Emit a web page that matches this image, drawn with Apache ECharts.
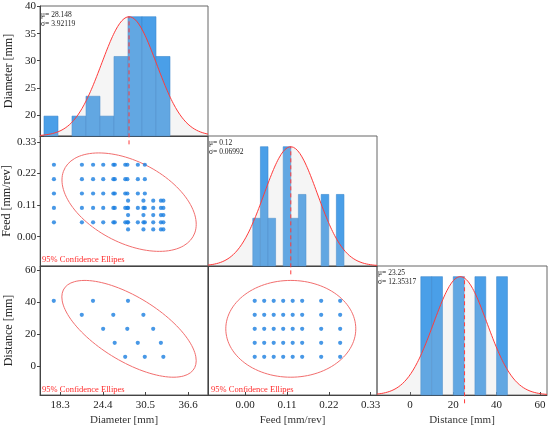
<!DOCTYPE html>
<html>
<head>
<meta charset="utf-8">
<script src="https://cdn.jsdelivr.net/npm/echarts@6.0.0/dist/echarts.min.js"></script>
<style>
  html, body { margin: 0; padding: 0; background: #fff; }
  #pair { width: 550px; height: 428px; }
</style>
</head>
<body>
<div id="pair"></div>
<script>
// ---- data ----
var varNames = ['Diameter [mm]', 'Feed [mm/rev]', 'Distance [mm]'];
var means  = [28.148, 0.12, 23.25];
var sigmas = [3.92119, 0.06992, 12.35317];
var meanLineX = [28.148, 0.12, 25.2];          // dashed red marker in each histogram

// histogram bins (edges) and counts
var diamEdges  = [16, 18, 20, 22, 24, 26, 28, 30, 32, 34];
var diamCounts = [1, 0, 1, 2, 1, 4, 6, 6, 4];
var feedEdges  = [0.02, 0.04, 0.06, 0.08, 0.10, 0.12, 0.14, 0.16, 0.18, 0.20, 0.22, 0.24, 0.26];
var feedCounts = [2, 5, 2, 0, 5, 2, 3, 0, 0, 3, 0, 3];
var distEdges  = [5, 10, 15, 20, 25, 30, 35, 40, 45];
var distCounts = [5, 5, 0, 5, 0, 5, 0, 5];

// scatter levels
var feedLevels = [0.025, 0.05, 0.075, 0.1, 0.125, 0.15, 0.2, 0.25];
var distLevels = [5.78, 14.52, 23.25, 31.98, 40.72];
var diamGroupA = [17.4, 21.4, 23.0, 24.45, 25.9, 26.1, 27.6, 27.9, 29.4, 30.4];
var feedGroupA = [0.25, 0.2, 0.15, 0.1, 0.05];
var diamGroupB = [28.0, 30.2, 31.6, 32.7, 33.05];
var feedGroupB = [0.125, 0.1, 0.075, 0.05, 0.025];
// diameters seen at each distance level (same order as distLevels)
var diamAtDist = [
  [27.6, 30.4, 33.05],
  [26.1, 29.4, 32.7],
  [24.45, 27.9, 31.6],
  [21.4, 25.9, 30.2],
  [17.4, 23.0, 28.0]
];
// correlations used for the 95% ellipses
var rhoDiamFeed = -0.45;
var rhoDiamDist = -0.66;
var rhoFeedDist = 0;

// axis ranges and tick labels
var colRange = [[15.43, 39.43], [-0.098, 0.347], [-15.24, 63.28]];
var rowRange = [[16.1, 40.1], [-0.102, 0.35], [-18.1, 62.5]];
var colTicks = [[18.3, 24.4, 30.5, 36.6], [0, 0.11, 0.22, 0.33], [0, 20, 40, 60]];
var rowTicks = [[20, 25, 30, 35, 40], [0, 0.11, 0.22, 0.33], [0, 20, 40, 60]];
var intFmt = function (v) { return String(Math.round(v)); };
var colFmt = [function (v) { return v.toFixed(1); }, function (v) { return v.toFixed(2); }, intFmt];
var rowFmt = [intFmt, function (v) { return v.toFixed(2); }, intFmt];

// ---- layout ----
var colX = [40, 208, 377, 547];
var rowY = [6, 136, 266, 395];
var SERIF = '"Liberation Serif", "DejaVu Serif", serif';
var RED = '#ff3b3b';

var chart = echarts.init(document.getElementById('pair'));

var panels = [[0, 0], [1, 0], [1, 1], [2, 0], [2, 1], [2, 2]]; // [row, col]
var grids = panels.map(function (p) {
  return {
    left: colX[p[1]], top: rowY[p[0]],
    width: colX[p[1] + 1] - colX[p[1]], height: rowY[p[0] + 1] - rowY[p[0]],
    show: true, borderColor: '#666', borderWidth: 1
  };
});

var xAxes = panels.map(function (p, i) {
  var c = p[1], bottom = p[0] === 2;
  return {
    type: 'value', gridIndex: i, min: colRange[c][0], max: colRange[c][1],
    splitLine: { show: false },
    axisLine: { show: true, onZero: false, lineStyle: { color: '#444' } },
    axisTick: { show: bottom, inside: true, length: 3, customValues: colTicks[c], lineStyle: { color: '#444' } },
    axisLabel: { show: bottom, customValues: colTicks[c], formatter: colFmt[c],
                 fontFamily: SERIF, fontSize: 11, color: '#222', margin: 5 },
    name: bottom ? varNames[c] : '', nameLocation: 'middle', nameGap: 20,
    nameTextStyle: { fontFamily: SERIF, fontSize: 11, color: '#333' }
  };
});

var yAxes = [];
var countAxis = {}; // panel index -> yAxis index (hidden count axes)
panels.forEach(function (p, i) {
  var r = p[0], c = p[1];
  if (r === c) {
    countAxis[i] = yAxes.length;
    yAxes.push({
      type: 'value', gridIndex: i, min: 0, position: 'right',
      max: function (v) { return v.max * 1.09; },
      show: false, splitLine: { show: false }
    });
  }
  if (c === 0 || r !== c) {
    var left = c === 0;
    yAxes.push({
      type: 'value', gridIndex: i, position: 'left',
      min: rowRange[r][0], max: rowRange[r][1],
      splitLine: { show: false },
      axisLine: { show: true, onZero: false, lineStyle: { color: '#444' } },
      axisTick: { show: left, length: 3, customValues: rowTicks[r], lineStyle: { color: '#444' } },
      axisLabel: { show: left, customValues: rowTicks[r], formatter: rowFmt[r],
                   fontFamily: SERIF, fontSize: 11, color: '#222', margin: 4 },
      name: left ? varNames[r] : '', nameLocation: 'middle', nameGap: 25, nameRotate: 90,
      nameTextStyle: { fontFamily: SERIF, fontSize: 12, color: '#222' }
    });
    if (r !== c) p.yIndex = yAxes.length - 1;
  }
});

function binData(edges, counts) {
  var out = [];
  for (var i = 0; i < counts.length; i++) {
    if (counts[i] > 0) out.push([edges[i], edges[i + 1], counts[i]]);
  }
  return out;
}

function normalCurve(k, peak) {
  var pts = [], lo = colRange[k][0], hi = colRange[k][1], n = 160;
  for (var i = 0; i <= n; i++) {
    var x = lo + (hi - lo) * i / n;
    var z = (x - means[k]) / sigmas[k];
    pts.push([x, peak * Math.exp(-0.5 * z * z)]);
  }
  return pts;
}

function ellipse(kx, ky, rho) {
  var s = Math.sqrt(5.991), pts = [], n = 120;
  for (var i = 0; i <= n; i++) {
    var t = 2 * Math.PI * i / n;
    pts.push([
      means[kx] + s * sigmas[kx] * Math.cos(t),
      means[ky] + s * sigmas[ky] * (rho * Math.cos(t) + Math.sqrt(1 - rho * rho) * Math.sin(t))
    ]);
  }
  return pts;
}

var series = [];
var hist = [[diamEdges, diamCounts], [feedEdges, feedCounts], [distEdges, distCounts]];
var diagPanel = { 0: 0, 1: 2, 2: 5 };

[0, 1, 2].forEach(function (k) {
  var pi = diagPanel[k], yi = countAxis[pi];
  var peak = Math.max.apply(null, hist[k][1]);
  series.push({
    type: 'custom', xAxisIndex: pi, yAxisIndex: yi, z: 2,
    data: binData(hist[k][0], hist[k][1]),
    encode: { x: [0, 1], y: 2 },
    renderItem: function (params, api) {
      var p0 = api.coord([api.value(0), 0]);
      var p1 = api.coord([api.value(1), api.value(2)]);
      return {
        type: 'rect',
        shape: { x: p0[0], y: p1[1], width: p1[0] - p0[0], height: p0[1] - p1[1] },
        style: { fill: '#4a9fe8', stroke: '#3a88cf', lineWidth: 0.6 }
      };
    }
  });
  series.push({
    type: 'line', xAxisIndex: pi, yAxisIndex: yi, z: 3,
    data: normalCurve(k, peak), showSymbol: false, smooth: false,
    lineStyle: { color: RED, width: 1 },
    areaStyle: { color: 'rgba(200,200,200,0.27)' }
  });
  series.push({
    type: 'line', xAxisIndex: pi, yAxisIndex: yi, z: 4, clip: false,
    data: [[meanLineX[k], -0.07 * peak], [meanLineX[k], peak]],
    showSymbol: false,
    lineStyle: { color: RED, width: 1, type: [4, 3] }
  });
});

// scatter panels
var ptsDiamFeed = [];
feedGroupA.forEach(function (f) { diamGroupA.forEach(function (d) { ptsDiamFeed.push([d, f]); }); });
feedGroupB.forEach(function (f) { diamGroupB.forEach(function (d) { ptsDiamFeed.push([d, f]); }); });
var ptsDiamDist = [];
distLevels.forEach(function (z, i) { diamAtDist[i].forEach(function (d) { ptsDiamDist.push([d, z]); }); });
var ptsFeedDist = [];
distLevels.forEach(function (z) { feedLevels.forEach(function (f) { ptsFeedDist.push([f, z]); }); });

var scatterDefs = [
  { panel: 1, pts: ptsDiamFeed, ell: ellipse(0, 1, rhoDiamFeed) },
  { panel: 3, pts: ptsDiamDist, ell: ellipse(0, 2, rhoDiamDist) },
  { panel: 4, pts: ptsFeedDist, ell: ellipse(1, 2, rhoFeedDist) }
];
scatterDefs.forEach(function (s) {
  var yi = panels[s.panel].yIndex;
  series.push({
    type: 'line', xAxisIndex: s.panel, yAxisIndex: yi, z: 2,
    data: s.ell, showSymbol: false, lineStyle: { color: '#f26e6e', width: 1 }
  });
  series.push({
    type: 'scatter', xAxisIndex: s.panel, yAxisIndex: yi, z: 3,
    data: s.pts, symbolSize: 4.2, itemStyle: { color: '#1a7ee0' }
  });
});

// annotations
var graphics = [];
var statPos = [[41, 11], [209, 139], [378, 269]];
[0, 1, 2].forEach(function (k) {
  graphics.push({ type: 'text', left: statPos[k][0], top: statPos[k][1],
    style: { text: 'μ= ' + means[k], font: '7.5px ' + SERIF, fill: '#222' } });
  graphics.push({ type: 'text', left: statPos[k][0], top: statPos[k][1] + 9.5,
    style: { text: 'σ= ' + sigmas[k], font: '7.5px ' + SERIF, fill: '#222' } });
});
[[42, 255], [42, 385], [211, 385]].forEach(function (p) {
  graphics.push({ type: 'text', left: p[0], top: p[1],
    style: { text: '95% Confidence Ellipes', font: '8.5px ' + SERIF, fill: '#ff2a2a' } });
});

var option = {
  animation: false,
  backgroundColor: '#fff',
  grid: grids,
  xAxis: xAxes,
  yAxis: yAxes,
  series: series,
  graphic: graphics
};
chart.setOption(option);
window.addEventListener('resize', function () { chart.resize(); });
</script>
</body>
</html>
